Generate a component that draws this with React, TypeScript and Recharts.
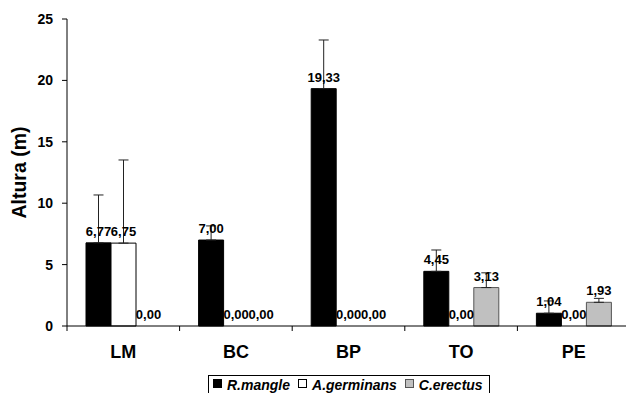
import React from 'react';
import { BarChart, Bar, XAxis, YAxis, ErrorBar, LabelList, Legend, Rectangle } from 'recharts';

const categories = ['LM', 'BC', 'BP', 'TO', 'PE'];
const rMangle = [6.77, 7.0, 19.33, 4.45, 1.04];
const aGerminans = [6.75, 0, 0, 0, 0];
const cErectus = [0, 0, 0, 3.13, 1.93];
const rMangleSd = [3.9, 1.15, 3.96, 1.74, 1.0];
const aGerminansSd = [6.77, 0, 0, 0, 0];
const cErectusSd = [0, 0, 0, 1.2, 0.32];
const yTicks = [0, 5, 10, 15, 20, 25];

const seriesNames = ['R.mangle', 'A.germinans', 'C.erectus'];

const data = categories.map((c, i) => ({
  cat: c,
  rm: rMangle[i],
  ag: aGerminans[i],
  ce: cErectus[i],
  rmErr: rMangleSd[i] > 0 ? [0, rMangleSd[i]] : null,
  agErr: aGerminansSd[i] > 0 ? [0, aGerminansSd[i]] : null,
  ceErr: cErectusSd[i] > 0 ? [0, cErectusSd[i]] : null,
}));

const FONT = '"Liberation Sans", Arial, sans-serif';

const fmt = (v: any) => Number(v).toFixed(2).replace('.', ',');

const YLabel = (props: any) => {
  const vb = props.viewBox || {};
  const cx = 26;
  const cy = vb.y + vb.height / 2;
  return (
    <text
      x={cx}
      y={cy}
      transform={`rotate(-90, ${cx}, ${cy})`}
      textAnchor="middle"
      fontFamily={FONT}
      fontWeight="bold"
      fontSize={19.5}
      fill="#000"
    >
      Altura (m)
    </text>
  );
};

const CatTick = (props: any) => {
  const { x, y, payload } = props;
  const half = payload && typeof payload.offset === 'number' ? payload.offset : 0;
  const axisY = y - 19;
  return (
    <g>
      {half > 0 && (
        <line x1={x - half} x2={x - half} y1={axisY} y2={axisY + 5} stroke="#000" strokeWidth={1} />
      )}
      <text
        x={x}
        y={y}
        dy="0.71em"
        textAnchor="middle"
        fontFamily={FONT}
        fontSize={18}
        fontWeight="bold"
        fill="#000"
      >
        {payload.value}
      </text>
    </g>
  );
};

const BarShape = (props: any) => {
  if (!props.height || Math.abs(props.height) < 1) return <g />;
  return <Rectangle {...props} />;
};

const swatchStyles = [
  { background: '#000', border: '1px solid #000' },
  { background: '#fff', border: '1px solid #000' },
  { background: '#c0c0c0', border: '1px solid #555' },
];

const LegendBox = () => (
  <div
    style={{
      boxSizing: 'border-box',
      width: 282,
      height: 20,
      border: '1px solid #000',
      background: '#fff',
      display: 'flex',
      alignItems: 'flex-start',
      paddingLeft: 4,
      fontFamily: FONT,
      fontSize: 14,
      fontWeight: 'bold',
      fontStyle: 'italic',
      lineHeight: '18px',
      color: '#000',
      whiteSpace: 'nowrap',
    }}
  >
    {seriesNames.map((n, i) => (
      <div key={n} style={{ display: 'flex', alignItems: 'flex-start', marginRight: 8 }}>
        <span
          style={{
            boxSizing: 'border-box',
            display: 'inline-block',
            width: 9,
            height: 9,
            marginTop: 3,
            marginRight: 5,
            ...swatchStyles[i],
          }}
        />
        <span>{n}</span>
      </div>
    ))}
  </div>
);

const labelStyle = { fontFamily: FONT, fontSize: 13, fontWeight: 'bold', fill: '#000' };

export default function App() {
  return (
    <div
      style={{
        position: 'absolute',
        left: 0,
        top: 0,
        width: 626,
        height: 393,
        overflow: 'hidden',
        background: '#fff',
      }}
    >
      <BarChart
        width={630}
        height={393}
        data={data}
        margin={{ top: 19, right: 0, left: 7, bottom: 0 }}
        barGap={0}
        barSize={25}
      >
        <XAxis
          dataKey="cat"
          height={47}
          axisLine={{ stroke: '#000' }}
          tickLine={false}
          tickSize={6}
          tickMargin={13}
          tick={<CatTick />}
          interval={0}
        />
        <YAxis
          width={60}
          domain={[0, 25]}
          ticks={yTicks}
          interval={0}
          axisLine={{ stroke: '#000' }}
          tickLine={{ stroke: '#000' }}
          tickSize={5}
          tickMargin={9}
          tick={{ fontFamily: FONT, fontSize: 14, fontWeight: 'bold', fill: '#000' }}
          label={<YLabel />}
        />
        <Legend
          verticalAlign="bottom"
          content={() => <LegendBox />}
          wrapperStyle={{ left: 208, top: 375, bottom: 'auto', width: 282, height: 20 }}
        />
        <Bar dataKey="rm" name="R.mangle" fill="#000" stroke="#000" minPointSize={0.5} shape={<BarShape />} isAnimationActive={false}>
          <LabelList dataKey="rm" position="top" offset={7} formatter={fmt} style={labelStyle} />
          <ErrorBar dataKey="rmErr" width={5} stroke="#222" strokeWidth={1} direction="y" />
        </Bar>
        <Bar dataKey="ag" name="A.germinans" fill="#fff" stroke="#000" minPointSize={0.5} shape={<BarShape />} isAnimationActive={false}>
          <LabelList dataKey="ag" position="top" offset={7} formatter={fmt} style={labelStyle} />
          <ErrorBar dataKey="agErr" width={5} stroke="#222" strokeWidth={1} direction="y" />
        </Bar>
        <Bar dataKey="ce" name="C.erectus" fill="#c0c0c0" stroke="#555" minPointSize={0.5} shape={<BarShape />} isAnimationActive={false}>
          <LabelList dataKey="ce" position="top" offset={7} formatter={fmt} style={labelStyle} />
          <ErrorBar dataKey="ceErr" width={5} stroke="#222" strokeWidth={1} direction="y" />
        </Bar>
      </BarChart>
    </div>
  );
}
